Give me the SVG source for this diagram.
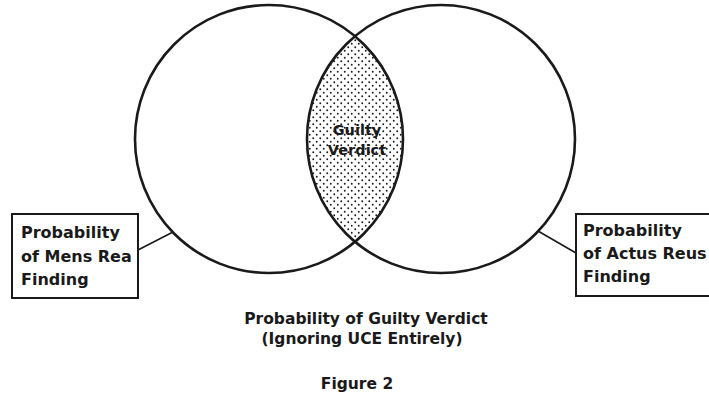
<svg xmlns="http://www.w3.org/2000/svg" width="709" height="400" viewBox="0 0 709 400">
  <style>
    .ring { fill: none; stroke: #1a1a1a; stroke-width: 2.6; }
    .box { fill: #fff; stroke: #1a1a1a; stroke-width: 2; }
    .lbl { font-family: "DejaVu Sans", "Liberation Sans", sans-serif; font-weight: bold; font-size: 16px; fill: #1a1a1a; }
    .cap { font-family: "DejaVu Sans", "Liberation Sans", sans-serif; font-weight: bold; font-size: 15.5px; fill: #1a1a1a; text-anchor: middle; }
    .mid { font-family: "DejaVu Sans", "Liberation Sans", sans-serif; font-weight: bold; font-size: 14.5px; fill: #1a1a1a; text-anchor: middle; }
    .conn { stroke: #1a1a1a; stroke-width: 1.6; fill: none; }
  </style>
  <defs>
    <pattern id="dots" width="7" height="7" patternUnits="userSpaceOnUse">
      <circle cx="1.75" cy="1.75" r="0.95" fill="#1a1a1a"/>
      <circle cx="5.25" cy="5.25" r="0.95" fill="#1a1a1a"/>
    </pattern>
    <clipPath id="leftClip">
      <circle cx="269" cy="139" r="134"/>
    </clipPath>
  </defs>
  <rect width="709" height="400" fill="#fff"/>

  <g id="intersection">
    <circle cx="441" cy="139" r="134" fill="url(#dots)" clip-path="url(#leftClip)"/>
    <text class="mid" x="357" y="135">Guilty</text>
    <text class="mid" x="357" y="155">Verdict</text>
  </g>

  <g id="mens-rea-circle">
    <circle class="ring" cx="269" cy="139" r="134"/>
  </g>
  <g id="actus-reus-circle">
    <circle class="ring" cx="441" cy="139" r="134"/>
  </g>

  <g id="connectors">
    <line class="conn" x1="138" y1="250" x2="173" y2="232"/>
    <line class="conn" x1="576" y1="253" x2="538" y2="231"/>
  </g>

  <g id="mens-rea-box">
    <rect class="box" x="12" y="214" width="126" height="84"/>
    <text class="lbl" x="21" y="238">Probability</text>
    <text class="lbl" x="21" y="262">of Mens Rea</text>
    <text class="lbl" x="21" y="285">Finding</text>
  </g>

  <g id="actus-reus-box">
    <rect class="box" x="576" y="214" width="140" height="82"/>
    <text class="lbl" x="583" y="236">Probability</text>
    <text class="lbl" x="583" y="259">of Actus Reus</text>
    <text class="lbl" x="583" y="282">Finding</text>
  </g>

  <g id="caption">
    <text class="cap" x="366" y="324">Probability of Guilty Verdict</text>
    <text class="cap" x="362" y="344">(Ignoring UCE Entirely)</text>
    <text class="cap" x="357" y="389">Figure 2</text>
  </g>
</svg>
